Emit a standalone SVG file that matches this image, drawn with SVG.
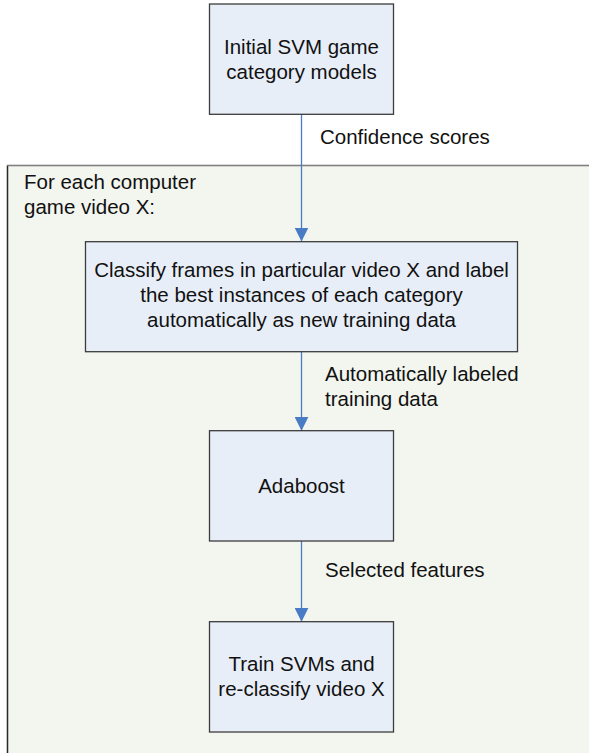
<svg xmlns="http://www.w3.org/2000/svg" width="589" height="753" viewBox="0 0 589 753">
<defs>
<style>
.box{fill:#E8EEF8;stroke:#3c3c3c;stroke-width:1.3}
.t{font-family:"Liberation Sans",Arial,sans-serif;font-size:20.5px;fill:#111}
.c{text-anchor:middle}
.con{stroke:#4A7CC6;stroke-width:1.3;fill:none}
</style>
<marker id="ah" markerWidth="14" markerHeight="14" refX="14" refY="7" orient="auto" markerUnits="userSpaceOnUse">
<path d="M0,0 L14,7 L0,14 Z" fill="#4A7CC6"/>
</marker>
</defs>
<rect width="589" height="753" fill="#ffffff"/>
<g id="container">
<rect x="7.5" y="165.5" width="600" height="600" fill="#F3F5EF" stroke="#808080" stroke-width="1.6"/>
<line x1="7.5" y1="166" x2="7.5" y2="753" stroke="#2a2a2a" stroke-width="1.2"/>
<text class="t" x="24" y="188.5">For each computer</text>
<text class="t" x="24" y="213.5">game video X:</text>
</g>
<g id="connectors">
<line class="con" x1="301.5" y1="114.5" x2="301.5" y2="241.5" marker-end="url(#ah)"/>
<line class="con" x1="301.5" y1="351.5" x2="301.5" y2="430.7" marker-end="url(#ah)"/>
<line class="con" x1="301.5" y1="541" x2="301.5" y2="621.7" marker-end="url(#ah)"/>
<text class="t" x="320" y="143.5">Confidence scores</text>
<text class="t" x="325" y="381">Automatically labeled</text>
<text class="t" x="325" y="405.5">training data</text>
<text class="t" x="325" y="577">Selected features</text>
</g>
<g id="n1">
<rect class="box" x="209.5" y="4" width="184" height="110.3"/>
<text class="t c" x="301.5" y="53.5">Initial SVM game</text>
<text class="t c" x="301.5" y="78.5">category models</text>
</g>
<g id="n2">
<rect class="box" x="85.5" y="241.7" width="432" height="110"/>
<text class="t c" x="301.5" y="277">Classify frames in particular video X and label</text>
<text class="t c" x="301.5" y="302">the best instances of each category</text>
<text class="t c" x="301.5" y="327">automatically as new training data</text>
</g>
<g id="n3">
<rect class="box" x="209.5" y="430.7" width="184" height="110.3"/>
<text class="t c" x="301.5" y="492.5">Adaboost</text>
</g>
<g id="n4">
<rect class="box" x="209.5" y="621.7" width="184" height="110.3"/>
<text class="t c" x="301.5" y="671">Train SVMs and</text>
<text class="t c" x="301.5" y="695.5">re-classify video X</text>
</g>
</svg>
